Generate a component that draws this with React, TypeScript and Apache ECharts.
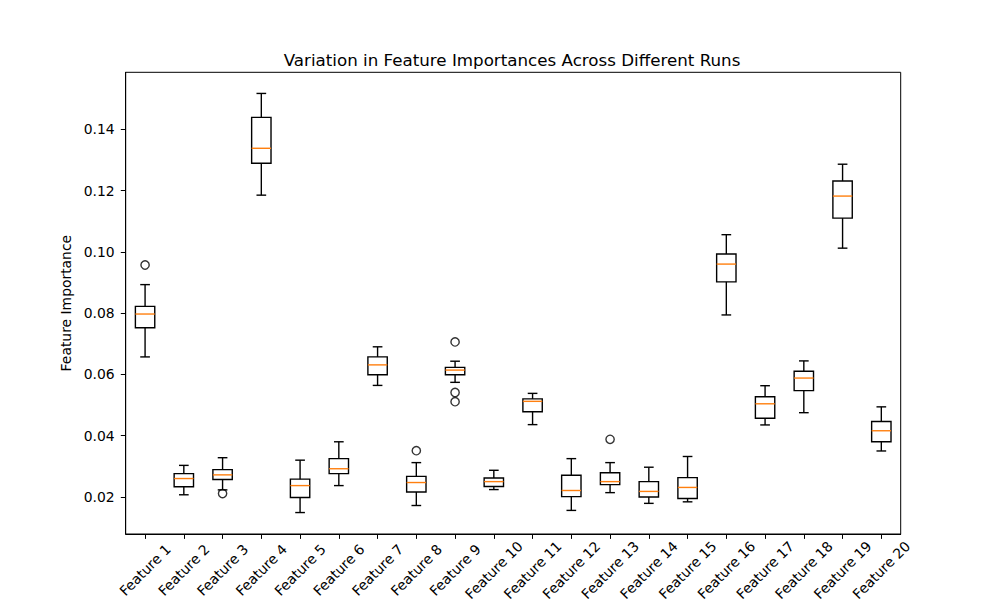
import React, { useEffect, useRef } from "react";
import * as echarts from "echarts";

const features = Array.from({ length: 20 }, (_, i) => `Feature ${i + 1}`);

// [lowerWhisker, q1, median, q3, upperWhisker]
const boxStats: number[][] = [
  [0.0657, 0.0752, 0.0797, 0.0822, 0.0893],
  [0.0207, 0.0233, 0.0260, 0.0276, 0.0303],
  [0.0223, 0.0257, 0.0272, 0.0289, 0.0328],
  [0.1185, 0.1289, 0.1338, 0.1439, 0.1517],
  [0.0149, 0.0198, 0.0237, 0.0258, 0.0320],
  [0.0237, 0.0276, 0.0292, 0.0325, 0.0380],
  [0.0564, 0.0599, 0.0631, 0.0657, 0.0690],
  [0.0172, 0.0216, 0.0247, 0.0267, 0.0312],
  [0.0574, 0.0599, 0.0614, 0.0623, 0.0643],
  [0.0224, 0.0234, 0.0250, 0.0262, 0.0287],
  [0.0436, 0.0478, 0.0512, 0.0520, 0.0538],
  [0.0156, 0.0201, 0.0221, 0.0271, 0.0325],
  [0.0214, 0.0240, 0.0250, 0.0279, 0.0312],
  [0.0179, 0.0200, 0.0218, 0.0250, 0.0297],
  [0.0184, 0.0195, 0.0231, 0.0263, 0.0332],
  [0.0794, 0.0902, 0.0960, 0.0993, 0.1056],
  [0.0435, 0.0457, 0.0504, 0.0527, 0.0563],
  [0.0475, 0.0547, 0.0588, 0.0610, 0.0644],
  [0.1012, 0.1110, 0.1182, 0.1231, 0.1286],
  [0.0350, 0.0380, 0.0416, 0.0446, 0.0494],
];

// [featureIndex, value]
const outliers: number[][] = [
  [0, 0.0957],
  [2, 0.0211],
  [7, 0.0351],
  [8, 0.0706],
  [8, 0.0541],
  [8, 0.0511],
  [12, 0.0388],
];

const yTicks = [0.02, 0.04, 0.06, 0.08, 0.1, 0.12, 0.14];
const yMin = 0.0079;
const yMax = 0.1586;

const FONT = "DejaVu Sans";
const LW = 1.4;

export default function App() {
  const ref = useRef<HTMLDivElement>(null);
  useEffect(() => {
    if (!ref.current) return;
    const chart = echarts.init(ref.current, null, { renderer: "svg" });
    const boxData = boxStats.map((s, i) => [i, ...s]);
    chart.setOption({
      animation: false,
      backgroundColor: "#ffffff",
      title: {
        text: "Variation in Feature Importances Across Different Runs",
        left: 507,
        top: 46,
        textAlign: "center",
        textStyle: { fontFamily: FONT, fontSize: 16.7, fontWeight: "normal", color: "#000" },
      },
      grid: {
        left: 125.7,
        right: 99.3,
        top: 72.3,
        bottom: 66,
        outerBoundsMode: "none",
        containLabel: false,
        show: true,
        borderColor: "#000",
        borderWidth: 1,
        backgroundColor: "transparent",
      },
      xAxis: {
        type: "category",
        data: features,
        boundaryGap: true,
        axisLine: { show: true, lineStyle: { color: "#000", width: 1 } },
        axisTick: { show: true, alignWithLabel: true, length: 4.9, lineStyle: { color: "#000", width: 1 } },
        axisLabel: {
          rotate: 45,
          interval: 0,
          align: "center",
          verticalAlign: "middle",
          margin: 36,
          fontFamily: FONT,
          fontSize: 13.9,
          color: "#000",
        },
        splitLine: { show: false },
      },
      yAxis: {
        type: "value",
        min: yMin,
        max: yMax,
        name: "Feature Importance",
        nameLocation: "middle",
        nameGap: 48,
        nameRotate: 90,
        nameTextStyle: { fontFamily: FONT, fontSize: 13.9, color: "#000" },
        axisLine: { show: true, lineStyle: { color: "#000", width: 1 } },
        axisTick: { show: true, length: 4.9, customValues: yTicks, lineStyle: { color: "#000", width: 1 } },
        axisLabel: {
          customValues: yTicks,
          formatter: (v: number) => v.toFixed(2),
          margin: 11,
          fontFamily: FONT,
          fontSize: 13.9,
          color: "#000",
        },
        splitLine: { show: false },
      },
      series: [
        {
          type: "custom",
          data: boxData,
          encode: { x: 0, y: [1, 2, 3, 4, 5] },
          renderItem: (params: any, api: any) => {
            const idx = api.value(0);
            const lo = api.coord([idx, api.value(1)]);
            const q1 = api.coord([idx, api.value(2)]);
            const med = api.coord([idx, api.value(3)]);
            const q3 = api.coord([idx, api.value(4)]);
            const hi = api.coord([idx, api.value(5)]);
            const band = api.size([1, 0])[0];
            const bw = band * 0.25;
            const cw = band * 0.125;
            const x = lo[0];
            const ls = { stroke: "#000", lineWidth: LW, fill: null };
            return {
              type: "group",
              children: [
                { type: "line", shape: { x1: x, y1: q1[1], x2: x, y2: lo[1] }, style: ls },
                { type: "line", shape: { x1: x, y1: q3[1], x2: x, y2: hi[1] }, style: ls },
                { type: "line", shape: { x1: x - cw, y1: lo[1], x2: x + cw, y2: lo[1] }, style: ls },
                { type: "line", shape: { x1: x - cw, y1: hi[1], x2: x + cw, y2: hi[1] }, style: ls },
                {
                  type: "rect",
                  shape: { x: x - bw, y: q3[1], width: bw * 2, height: q1[1] - q3[1] },
                  style: { stroke: "#000", lineWidth: LW, fill: "none" },
                },
                {
                  type: "line",
                  shape: { x1: x - bw, y1: med[1], x2: x + bw, y2: med[1] },
                  style: { stroke: "#ff7f0e", lineWidth: LW },
                },
              ],
            };
          },
        },
        {
          type: "scatter",
          data: outliers,
          symbol: "circle",
          symbolSize: 8.3,
          itemStyle: { color: "rgba(0,0,0,0)", borderColor: "#000", borderWidth: LW },
        },
      ],
    });
    return () => chart.dispose();
  }, []);
  return (
    <div
      ref={ref}
      style={{ position: "fixed", left: 0, top: 0, width: 1000, height: 600 }}
    />
  );
}
